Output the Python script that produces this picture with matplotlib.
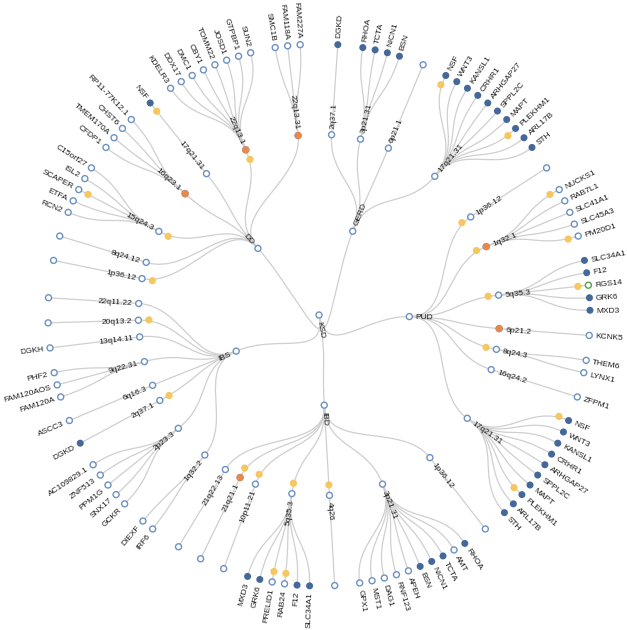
import math
import matplotlib
matplotlib.use("Agg")
import matplotlib.pyplot as plt
from matplotlib.path import Path
from matplotlib.patches import PathPatch, Circle

plt.rcParams['font.family'] = ['Liberation Sans', 'DejaVu Sans']

# ---------------- data ----------------
root_name = "KSD"
diseases = ["GERD", "PUD", "IBD", "IBS", "DD"]

gerd_loci = ["2q37.1", "3p21.31", "6p21.1", "17q21.31"]
gerd_genes = [["DGKD"], ["RHOA", "TCTA", "NICN1", "BSN"], [""],
              ["NSF", "WNT3", "KANSL1", "CRHR1", "ARHGAP27", "SPPL2C", "MAPT",
               "PLEKHM1", "ARL17B", "STH"]]

pud_loci = ["1p36.12", "1q32.1", "5q35.3", "6p21.2", "8q24.3", "16q24.2", "17q21.31"]
pud_genes = [[""], ["NUCKS1", "RAB7L1", "SLC41A1", "SLC45A3", "PM20D1"],
             ["SLC34A1", "F12", "RGS14", "GRK6", "MXD3"], ["KCNK5"],
             ["THEM6", "LYNX1"], ["ZFPM1"],
             ["NSF", "WNT3", "KANSL1", "CRHR1", "ARHGAP27", "SPPL2C", "MAPT",
              "PLEKHM1", "ARL17B", "STH"]]

ibd_loci = ["1p36.12", "3p21.31", "4q26", "5q35.3", "10p11.21", "21q21.1", "21q22.13"]
ibd_genes = [[""], ["RHOA", "AMT", "TCTA", "NICN1", "BSN", "APEH", "RNF123", "DAG1",
                    "MST1", "GPX1"], [""],
             ["SLC34A1", "F12", "RAB24", "PRELID1", "GRK6", "MXD3"], [""], [""], [""]]

ibs_loci = ["1q32.2", "2p23.3", "2q37.1", "6q16.3", "9q22.31", "13q14.11", "20q13.2", "22q11.22"]
ibs_genes = [["IRF6", "DIEXF"], ["GCKR", "SNX17", "PPM1G", "ZNF513", "AC109829.1"],
             ["DGKD"], ["ASCC3"], ["FAM120A", "FAM120AOS", "PHF2"], ["DGKH"], [""], [""]]

dd_loci = ["1p36.12", "8q24.12", "15q24.3", "16q23.1", "17q21.31", "22q13.1", "22q13.31"]
dd_genes = [[""], [""], ["RCN2", "ETFA", "SCAPER", "ISL2", "C15orf27"],
            ["CFDP1", "TMEM170A", "CHST6", "RP11-77K12.1"], ["NSF"],
            ["KDELR3", "DDX17", "DMC1", "CBY1", "TOMM22", "JOSD1", "GTPBP1", "SUN2"],
            ["SMC1B", "FAM118A", "FAM227A"]]

filled_nodes = (["GERD/2q37.1/DGKD"]
                + ["GERD/3p21.31/" + g for g in ["RHOA", "TCTA", "NICN1", "BSN"]]
                + ["GERD/17q21.31/" + g for g in gerd_genes[3]]
                + ["PUD/5q35.3/" + g for g in ["SLC34A1", "F12", "GRK6", "MXD3"]]
                + ["PUD/17q21.31/" + g for g in pud_genes[6]]
                + ["IBD/3p21.31/" + g for g in ["RHOA", "TCTA", "NICN1", "BSN"]]
                + ["IBD/5q35.3/" + g for g in ["MXD3", "GRK6", "F12", "SLC34A1"]]
                + ["IBS/2q37.1/DGKD", "DD/17q21.31/NSF"])
green_nodes = ["PUD/5q35.3/RGS14"]
yellow_nodes = ["GERD/17q21.31/NSF", "GERD/17q21.31/PLEKHM1",
                "PUD/1p36.12", "PUD/1q32.1", "PUD/1q32.1/NUCKS1", "PUD/1q32.1/PM20D1",
                "PUD/5q35.3", "PUD/5q35.3/RGS14", "PUD/8q24.3",
                "PUD/17q21.31/NSF", "PUD/17q21.31/PLEKHM1",
                "IBD/4q26", "IBD/5q35.3", "IBD/5q35.3/PRELID1", "IBD/5q35.3/RAB24",
                "IBD/10p11.21", "IBD/21q21.1",
                "IBS/20q13.2", "IBS/2q37.1",
                "DD/1p36.12", "DD/15q24.3", "DD/15q24.3/SCAPER", "DD/17q21.31/NSF",
                "DD/22q13.1"]
orange_nodes = ["PUD/1q32.1", "PUD/6p21.2", "IBD/21q21.1",
                "DD/16q23.1", "DD/22q13.1", "DD/22q13.31"]

disease_loci = [gerd_loci, pud_loci, ibd_loci, ibs_loci, dd_loci]
disease_genes = [gerd_genes, pud_genes, ibd_genes, ibs_genes, dd_genes]

# ---------------- hierarchy ----------------
class Node:
    def __init__(self, name, parent=None):
        self.name = name
        self.parent = parent
        self.children = None
        self.depth = 0 if parent is None else parent.depth + 1
        if parent is None:
            self.key = name
        elif parent.parent is None:
            self.key = name
        else:
            self.key = parent.key + "/" + name
        self.x = 0.0
        self.y = 0.0

    def add(self, name):
        c = Node(name, self)
        if self.children is None:
            self.children = []
        self.children.append(c)
        return c

root = Node(root_name)
for d, loci, genes in zip(diseases, disease_loci, disease_genes):
    dn = root.add(d)
    for loc, gl in zip(loci, genes):
        ln = dn.add(loc)
        for g in gl:
            ln.add(g)

# ---------------- d3.tree port (Reingold-Tilford, Buchheim) ----------------
def separation(a, b):
    return (1 if a.parent is b.parent else 2) / a.depth

class TNode:
    def __init__(self, node, i):
        self._ = node
        self.parent = None
        self.children = None
        self.A = None
        self.a = self
        self.z = 0.0
        self.m = 0.0
        self.c = 0.0
        self.s = 0.0
        self.t = None
        self.i = i

def tree_root(r):
    t = TNode(r, 0)
    stack = [t]
    while stack:
        n = stack.pop()
        if n._.children:
            n.children = [TNode(c, i) for i, c in enumerate(n._.children)]
            for ch in n.children:
                ch.parent = n
                stack.append(ch)
    dummy = TNode(None, 0)
    dummy.children = [t]
    t.parent = dummy
    return t

def next_left(v):
    return v.children[0] if v.children else v.t

def next_right(v):
    return v.children[-1] if v.children else v.t

def move_subtree(wm, wp, shift):
    change = shift / (wp.i - wm.i)
    wp.c -= change
    wp.s += shift
    wm.c += change
    wp.z += shift
    wp.m += shift

def execute_shifts(v):
    shift = 0.0
    change = 0.0
    for w in reversed(v.children):
        w.z += shift
        w.m += shift
        change += w.c
        shift += w.s + change

def next_ancestor(vim, v, ancestor):
    return vim.a if vim.a.parent is v.parent else ancestor

def apportion(v, w, ancestor):
    if w is not None:
        vip = vop = v
        vim = w
        vom = vip.parent.children[0]
        sip = vip.m; sop = vop.m; sim = vim.m; som = vom.m
        while True:
            vim = next_right(vim)
            vip = next_left(vip)
            if not (vim is not None and vip is not None):
                break
            vom = next_left(vom)
            vop = next_right(vop)
            vop.a = v
            shift = vim.z + sim - vip.z - sip + separation(vim._, vip._)
            if shift > 0:
                move_subtree(next_ancestor(vim, v, ancestor), v, shift)
                sip += shift
                sop += shift
            sim += vim.m
            sip += vip.m
            som += vom.m
            sop += vop.m
        if vim is not None and next_right(vop) is None:
            vop.t = vim
            vop.m += sim - sop
        if vip is not None and next_left(vom) is None:
            vom.t = vip
            vom.m += sip - som
            ancestor = v
    return ancestor

def first_walk(v):
    children = v.children
    siblings = v.parent.children
    w = siblings[v.i - 1] if v.i else None
    if children:
        execute_shifts(v)
        midpoint = (children[0].z + children[-1].z) / 2
        if w is not None:
            v.z = w.z + separation(v._, w._)
            v.m = v.z - midpoint
        else:
            v.z = midpoint
    elif w is not None:
        v.z = w.z + separation(v._, w._)
    v.parent.A = apportion(v, w, v.parent.A if v.parent.A is not None else siblings[0])

def second_walk(v):
    v._.x = v.z + v.parent.m
    v.m += v.parent.m

def post_order(n, out):
    if n.children:
        for c in n.children:
            post_order(c, out)
    out.append(n)
    return out

def pre_order(n, out):
    out.append(n)
    if n.children:
        for c in n.children:
            pre_order(c, out)
    return out

def d3_tree(r, dx, dy):
    t = tree_root(r)
    for v in post_order(t, []):
        first_walk(v)
    t.parent.m = -t.z
    for v in pre_order(t, []):
        second_walk(v)
    nodes = pre_order(r, [])
    left = right = bottom = r
    for n in nodes:
        if n.x < left.x: left = n
        if n.x > right.x: right = n
        if n.depth > bottom.depth: bottom = n
    s = 1 if left is right else separation(left, right) / 2
    tx = s - left.x
    kx = dx / (right.x + s + tx)
    ky = dy / (bottom.depth or 1)
    for n in nodes:
        n.x = (n.x + tx) * kx
        n.y = n.depth * ky
    return nodes

W, H = 627, 630
CX, CY = 319.0, 315.0
RADIUS = 271.0
nodes = d3_tree(root, 2 * math.pi, RADIUS)

def P(a, r):
    return (CX + r * math.sin(a), CY - r * math.cos(a))

# ---------------- draw ----------------
fig = plt.figure(figsize=(W / 100, H / 100), dpi=100)
ax = fig.add_axes([0, 0, 1, 1])
ax.set_xlim(0, W)
ax.set_ylim(H, 0)
ax.axis("off")

LINK = "#cfcfcf"
HOLLOW = "#6c91c2"
FILLED = "#44689a"
YELLOW = "#f6c760"
ORANGE = "#e8894c"
GREEN = "#5a9e45"
TEXT = "#1a1a1a"

for n in nodes:
    if n.parent is None:
        continue
    a0, r0 = n.parent.x, n.parent.y
    a1, r1 = n.x, n.y
    rm = (r0 + r1) / 2
    verts = [P(a0, r0), P(a0, rm), P(a1, rm), P(a1, r1)]
    path = Path(verts, [Path.MOVETO, Path.CURVE4, Path.CURVE4, Path.CURVE4])
    ax.add_patch(PathPatch(path, fc="none", ec=LINK, lw=0.9, zorder=1))

filled_set = set(filled_nodes)
green_set = set(green_nodes)
yellow_set = set(yellow_nodes)
orange_set = set(orange_nodes)

for n in nodes:
    x, y = P(n.x, n.y)
    if n.key in filled_set:
        ax.add_patch(Circle((x, y), 3.5, fc=FILLED, ec="none", zorder=3))
    elif n.key in green_set:
        ax.add_patch(Circle((x, y), 3.0, fc="white", ec=GREEN, lw=1.0, zorder=3))
    else:
        ax.add_patch(Circle((x, y), 3.0, fc="white", ec=HOLLOW, lw=1.0, zorder=3))
    if n.key in orange_set:
        ax.add_patch(Circle((x, y), 3.6, fc=ORANGE, ec="none", zorder=4))
    if n.key in yellow_set and n.parent is not None:
        yx, yy = P(n.x, n.y - 10.5)
        ax.add_patch(Circle((yx, yy), 3.6, fc=YELLOW, ec="none", zorder=4))

    if n.name:
        deg = math.degrees(n.x)
        off = 6.5
        tx, ty = P(n.x, n.y + off) if n.parent is not None else (
            CX + off * math.sin(n.x), CY - off * math.cos(n.x))
        if n.x < math.pi:
            rot = 90 - deg
            ha = "left"
        else:
            rot = 270 - deg
            ha = "right"
        ax.text(tx, ty, n.name, rotation=rot, rotation_mode="anchor",
                ha=ha, va="center_baseline", fontsize=6.0, color=TEXT, zorder=5)

fig.savefig("out.png", dpi=100)
